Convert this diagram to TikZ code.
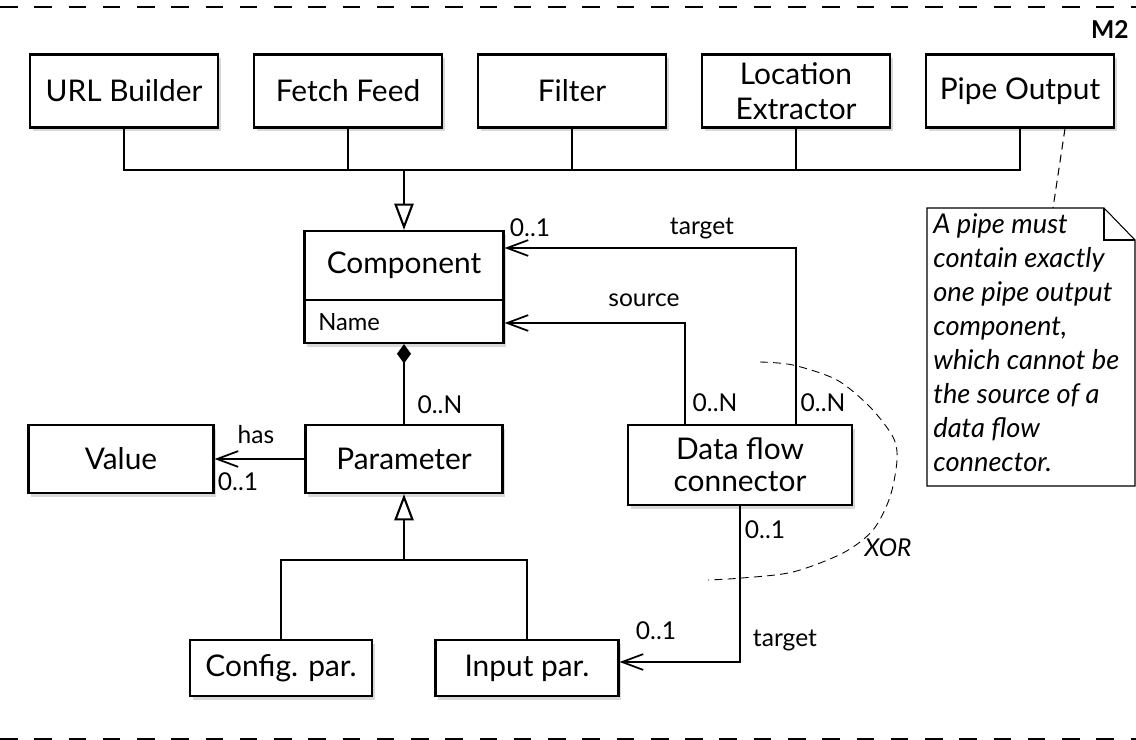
\documentclass[tikz,border=0pt]{standalone}
\usepackage{fontspec}
\setmainfont{Lato}
\usetikzlibrary{arrows.meta,shadows}

\begin{document}
\begin{tikzpicture}[x=0.02cm, y=-0.02cm,
    box/.style={draw, line width=1.3pt, fill=white, inner sep=2pt, align=center,
      font=\fontsize{17}{20}\selectfont,
      drop shadow={shadow xshift=1.5pt, shadow yshift=-2pt, opacity=0.3}},
    lbl/.style={inner sep=1pt, font=\fontsize{14}{16}\selectfont},
    conn/.style={line width=1pt},
    assoc/.style={conn, -{Straight Barb[length=12pt, width=9pt, line width=1pt]}},
    gen/.style={conn, -{Triangle[open, length=15pt, width=11pt, line width=1.2pt]}},
    part/.style={conn, {Diamond[length=11pt, width=8pt]}-},
    frame/.style={line width=1.4pt, dash pattern=on 10pt off 9.5pt},
    hint/.style={line width=0.6pt, dash pattern=on 4.5pt off 3pt}]
  \useasboundingbox (0,0) rectangle (1136,740);

  % frame
  \draw[frame] (0,7) -- (1136,7);
  \draw[frame] (0,739) -- (1136,739);
  \node[inner sep=0pt, anchor=east, font=\fontsize{14}{16}\selectfont\bfseries] (m2) at (1129,30) {M2};

  % component kinds
  \node[box, minimum width=3.76cm, minimum height=1.46cm] (url) at (124,91) {URL Builder};
  \node[box, minimum width=3.76cm, minimum height=1.46cm] (fetch) at (348,91) {Fetch Feed};
  \node[box, minimum width=3.76cm, minimum height=1.46cm] (filter) at (572,91) {Filter};
  \node[box, minimum width=3.76cm, minimum height=1.46cm] (loc) at (796,91) {Location\\Extractor};
  \node[box, minimum width=3.76cm, minimum height=1.46cm] (pipe) at (1020,91) {Pipe Output};

  % component class
  \node[box, minimum width=3.98cm, minimum height=2.24cm] (comp) at (404,287) {};
  \draw[line width=1.3pt] (comp.west |- 0,300) -- (comp.east |- 0,300);
  \node[inner sep=0pt, font=\fontsize{17}{20}\selectfont] (compname) at (404,265) {Component};
  \node[inner sep=0pt, anchor=west, font=\fontsize{13.5}{15}\selectfont] (attr) at (318,322) {Name};

  \node[box, minimum width=3.94cm, minimum height=1.36cm] (param) at (404,459) {Parameter};
  \node[box, minimum width=3.7cm, minimum height=1.36cm] (value) at (121,459) {Value};
  \node[box, minimum width=4.48cm, minimum height=1.6cm] (dfc) at (740,465) {Data flow\\[-2pt]connector};
  \node[box, minimum width=3.64cm, minimum height=1.12cm] (config) at (281,668) {Config. par.};
  \node[box, minimum width=3.66cm, minimum height=1.12cm] (input) at (527,668) {Input par.};

  % generalisation of the kinds
  \coordinate (bus) at (404,170);
  \draw[conn] (url.south) |- (bus) -| (pipe.south);
  \draw[conn] (fetch.south) -- (fetch.south |- bus);
  \draw[conn] (filter.south) -- (filter.south |- bus);
  \draw[conn] (loc.south) -- (loc.south |- bus);
  \draw[gen] (bus) -- (comp.north);

  % parameters
  \draw[part] (comp.south) -- (param.north);
  \node[lbl] (pmult) at (440,405) {0..N};
  \draw[assoc] (param.west) -- (value.east);
  \node[lbl] (has) at (256,435) {has};
  \node[lbl] (vmult) at (238,482) {0..1};

  \coordinate (genbus) at (404,560);
  \draw[conn] (config.north) |- (genbus) -| (input.north);
  \draw[gen] (genbus) -- (param.south);

  % data flow connector
  \coordinate (srcup) at (685,323);
  \coordinate (tgtup) at (796,248);
  \coordinate (tgtdn) at (740,662);
  \draw[assoc] (dfc.north -| srcup) |- (comp.east |- srcup);
  \draw[assoc] (dfc.north -| tgtup) |- (comp.east |- tgtup);
  \draw[assoc] (dfc.south) |- (input.east |- tgtdn);
  \node[lbl] (tmult) at (530,228) {0..1};
  \node[lbl] (tgt) at (702,228) {target};
  \node[lbl] (src) at (644,300) {source};
  \node[lbl] (smult) at (715,403) {0..N};
  \node[lbl] (cmult) at (823,403) {0..N};
  \node[lbl] (dmult) at (765,530) {0..1};
  \node[lbl] (tgtlow) at (785,640) {target};
  \node[lbl] (imult) at (656,631) {0..1};

  % xor constraint
  \draw[hint, line width=0.5pt] plot[smooth] coordinates {(760,362) (793,365) (837,380) (870,407) (893,437) (897,460) (890,497) (873,530) (843,553) (793,572) (742,578) (708,580)};
  \node[lbl, font=\fontsize{14}{16}\selectfont\itshape] (xor) at (888,548) {XOR};

  % note
  \draw[line width=0.6pt, fill=white] (927,208) -- (1104,208) -- (1135,240) -- (1135,486) -- (927,486) -- cycle;
  \draw[line width=0.6pt] (1104,208) -- (1104,240) -- (1135,240);
  \node[inner sep=0pt, anchor=north west, align=left, font=\fontsize{15.5}{19.4}\selectfont\itshape] (note) at (933,213)
    {A pipe must\\contain exactly\\one pipe output\\component,\\which cannot be\\the source of a\\data flow\\connector.};
  \coordinate (notetop) at (1053,208);
  \draw[hint] ([xshift=0.9cm]pipe.south) -- (notetop);
\end{tikzpicture}
\end{document}
